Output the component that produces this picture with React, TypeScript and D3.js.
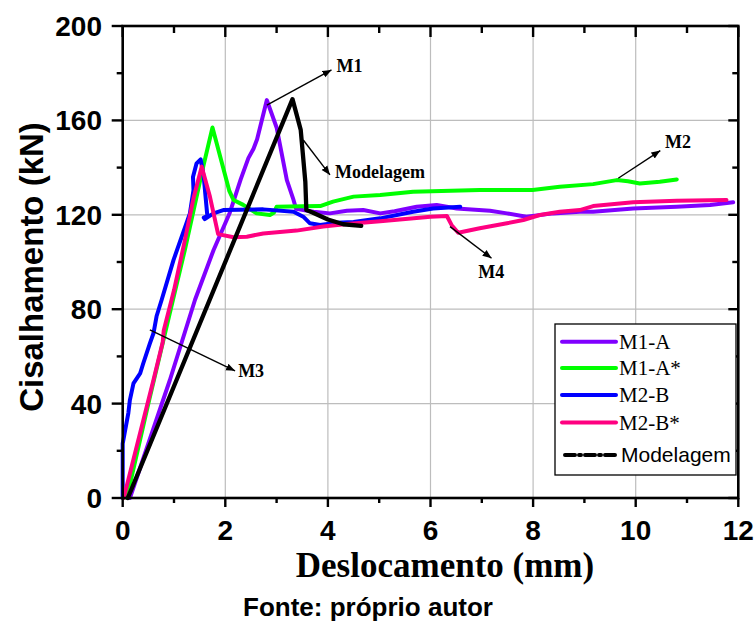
import React from "react";
import * as d3 from "d3";

type P = [number, number];

const M1A: P[] = [
  [0.14, 0], [0.92, 50], [1.41, 84], [1.77, 105], [2.09, 121], [2.3, 135], [2.45, 144],
  [2.55, 148], [2.62, 152], [2.81, 168.6], [3.0, 157], [3.2, 134.7], [3.33, 126.3],
  [3.38, 122.5], [3.72, 121.3], [4.04, 120.6], [4.37, 121.7], [4.69, 122], [5.02, 120.6],
  [5.3, 121.5], [5.73, 123.4], [6.12, 124.2], [6.51, 122.7], [7.16, 121.7], [7.49, 120.6],
  [7.87, 119.2], [8.39, 120.6], [8.91, 121.3], [9.17, 121.3], [9.95, 122.7], [10.8, 123.4],
  [11.45, 124.2], [11.9, 125.3],
];

const M1Astar: P[] = [
  [0.08, 0], [0.5, 40], [0.98, 84], [1.21, 105], [1.57, 140.4], [1.75, 157], [2.08, 130],
  [2.16, 126.3], [2.35, 124.2], [2.61, 120.6], [2.87, 119.9], [2.95, 121], [3.0, 123.4],
  [3.5, 123.6], [3.85, 123.7], [4.1, 125.6], [4.5, 127.7], [5.02, 128.4], [5.66, 129.8],
  [6.96, 130.5], [7.99, 130.5], [8.52, 131.9], [9.17, 133], [9.63, 134.7], [9.85, 134.2],
  [10.08, 133.3], [10.47, 134], [10.8, 135],
];

const M2B: P[] = [
  [0.0, 0], [0.0, 23], [0.05, 29], [0.11, 36], [0.14, 41.5], [0.21, 48.6], [0.34, 52.8],
  [0.4, 57], [0.53, 65.5], [0.6, 69.8], [0.66, 77], [0.76, 84], [0.99, 100.8],
  [1.31, 120.6], [1.38, 130.5], [1.37, 136], [1.44, 141.8], [1.52, 143.5], [1.58, 136],
  [1.65, 119.5], [1.58, 118.8], [1.6, 118.2], [1.77, 120.6], [1.96, 122], [2.74, 122.3],
  [3.33, 121.3], [3.52, 119.2], [3.65, 116.4], [3.85, 115.7], [4.17, 116.6], [4.5, 117],
  [5.02, 118.5], [5.66, 121.3], [6.05, 122.7], [6.58, 123.4],
];

const M2Bstar: P[] = [
  [0.02, 0], [0.6, 50], [0.78, 66], [0.8, 71], [1.0, 88], [1.2, 108], [1.38, 127],
  [1.54, 140.4], [1.7, 127.7], [1.86, 111.8], [2.16, 110.5], [2.42, 110.7], [2.74, 112.1],
  [3.39, 113.3], [3.91, 115], [4.37, 116.1], [5.02, 117.3], [6.0, 119.2], [6.32, 119.5],
  [6.41, 115.7], [6.54, 112.4], [6.96, 114.3], [7.49, 116.4], [7.81, 117.8], [8.13, 119.9],
  [8.52, 121.3], [8.91, 122], [9.17, 123.7], [9.95, 125.3], [10.8, 126], [11.77, 126.3],
];

const Modelagem: P[] = [
  [0.1, 0], [3.31, 169], [3.47, 156], [3.56, 134], [3.58, 122], [3.7, 121], [4.0, 118],
  [4.3, 116], [4.65, 115.3],
];

const seriesNames = ["M1-A", "M1-A*", "M2-B", "M2-B*", "Modelagem"];
const seriesData = [M1A, M1Astar, M2B, M2Bstar, Modelagem];
const seriesColors = ["#8000ff", "#00ff00", "#0000ff", "#ff0080", "#000000"];
const drawOrder = [0, 1, 2, 3, 4];

const xTicks = [0, 2, 4, 6, 8, 10, 12];
const xMinor = [1, 3, 5, 7, 9, 11];
const yTicks = [0, 40, 80, 120, 160, 200];
const yMinor = [20, 60, 100, 140, 180];

// annotations in data units
const annotations = [
  { label: "M1", from: [2.81, 166.5] as P, to: [4.07, 181.4] as P, text: [4.17, 180.5] as P },
  { label: "Modelagem", from: [3.52, 151.7] as P, to: [4.04, 136.9] as P, text: [4.14, 135.6] as P },
  { label: "M2", from: [9.66, 135.5] as P, to: [10.48, 147.2] as P, text: [10.57, 148.3] as P },
  { label: "M4", from: [6.38, 115] as P, to: [7.19, 101.6] as P, text: [6.93, 93.2] as P },
  { label: "M3", from: [0.53, 71.2] as P, to: [2.19, 53.9] as P, text: [2.25, 51.4] as P },
];

const W = 756;
const H = 623;
const L = 122.7, R = 738.3, T = 26, B = 498;

export default function App() {
  const x = d3.scaleLinear().domain([0, 12]).range([L, R]);
  const y = d3.scaleLinear().domain([0, 200]).range([B, T]);
  const line = d3.line<P>().x((d) => x(d[0])).y((d) => y(d[1]));

  const serifBold = "'Liberation Serif', 'Times New Roman', serif";
  const sans = "'Liberation Sans', Arial, sans-serif";

  const legendX = 555, legendY = 324, legendW = 181, legendH = 151;
  const legendRows = [17.7, 44, 71, 98.5, 131];

  return (
    <svg width={W} height={H} style={{ position: "absolute", left: 0, top: 0, background: "#fff" }}>
      <rect x={0} y={0} width={W} height={H} fill="#fff" />
      {/* grid */}
      {xTicks.filter((t) => t > 0 && t < 12).map((t) => (
        <line key={"gx" + t} x1={x(t)} x2={x(t)} y1={T} y2={B} stroke="#bdbdbd" strokeWidth={1.2} />
      ))}
      {yTicks.filter((t) => t > 0 && t < 200).map((t) => (
        <line key={"gy" + t} x1={L} x2={R} y1={y(t)} y2={y(t)} stroke="#bdbdbd" strokeWidth={1.2} />
      ))}

      {/* series */}
      {drawOrder.map((i) => (
        <path
          key={"s" + i}
          d={line(seriesData[i]) || ""}
          fill="none"
          stroke={seriesColors[i]}
          strokeWidth={i === 4 ? 4.3 : 4}
          strokeLinejoin="round"
          strokeLinecap="round"
        />
      ))}

      {/* annotations */}
      <defs>
        <marker id="ah" viewBox="0 0 10 10" refX="10" refY="5" markerWidth="9" markerHeight="9" markerUnits="userSpaceOnUse" orient="auto">
          <path d="M0,1 L10,5 L0,9 z" fill="#000" />
        </marker>
      </defs>
      {annotations.map((a) => (
        <g key={a.label}>
          <line
            x1={x(a.from[0])}
            y1={y(a.from[1])}
            x2={x(a.to[0])}
            y2={y(a.to[1])}
            stroke="#000"
            strokeWidth={1.4}
            markerEnd="url(#ah)"
          />
          <text x={x(a.text[0])} y={y(a.text[1])} fontFamily={serifBold} fontWeight="bold" fontSize={18} fill="#000">
            {a.label}
          </text>
        </g>
      ))}

      {/* frame */}
      <rect x={L} y={T} width={R - L} height={B - T} fill="none" stroke="#000" strokeWidth={2.6} />

      {/* ticks */}
      {xTicks.map((t) => (
        <g key={"xt" + t}>
          <line x1={x(t)} x2={x(t)} y1={B} y2={B + 9} stroke="#000" strokeWidth={2.4} />
          <line x1={x(t)} x2={x(t)} y1={T} y2={T + 11} stroke="#000" strokeWidth={2.4} />
          <text x={x(t)} y={540} textAnchor="middle" fontFamily={sans} fontWeight="bold" fontSize={28} fill="#000">
            {t}
          </text>
        </g>
      ))}
      {xMinor.map((t) => (
        <g key={"xm" + t}>
          <line x1={x(t)} x2={x(t)} y1={B} y2={B + 5} stroke="#000" strokeWidth={2.4} />
          <line x1={x(t)} x2={x(t)} y1={T} y2={T + 7} stroke="#000" strokeWidth={2.4} />
        </g>
      ))}
      {yTicks.map((t) => (
        <g key={"yt" + t}>
          <line x1={L - 11} x2={L} y1={y(t)} y2={y(t)} stroke="#000" strokeWidth={2.4} />
          <line x1={R - 10} x2={R} y1={y(t)} y2={y(t)} stroke="#000" strokeWidth={2.4} />
          <text x={102} y={y(t)} dy="0.36em" textAnchor="end" fontFamily={sans} fontWeight="bold" fontSize={28} fill="#000">
            {t}
          </text>
        </g>
      ))}
      {yMinor.map((t) => (
        <g key={"ym" + t}>
          <line x1={L - 6} x2={L} y1={y(t)} y2={y(t)} stroke="#000" strokeWidth={2.4} />
          <line x1={R - 6} x2={R} y1={y(t)} y2={y(t)} stroke="#000" strokeWidth={2.4} />
        </g>
      ))}

      {/* axis titles */}
      <text
        transform={`translate(43, 267) rotate(-90)`}
        textAnchor="middle"
        fontFamily={sans}
        fontWeight="bold"
        fontSize={33}
        fill="#000"
      >
        Cisalhamento (kN)
      </text>
      <text x={445} y={577} textAnchor="middle" fontFamily={serifBold} fontWeight="bold" fontSize={35} fill="#000">
        Deslocamento (mm)
      </text>
      <text x={368} y={616} textAnchor="middle" fontFamily={sans} fontWeight="bold" fontSize={26} fill="#000">
        Fonte: próprio autor
      </text>

      {/* legend */}
      <rect x={legendX} y={legendY} width={legendW} height={legendH} fill="#fff" stroke="#000" strokeWidth={1.3} />
      {seriesNames.map((name, i) => {
        const ry = legendY + legendRows[i];
        const isModel = i === 4;
        return (
          <g key={"lg" + i}>
            <line
              x1={isModel ? 565 : 562}
              x2={616}
              y1={ry}
              y2={ry}
              stroke={seriesColors[i]}
              strokeWidth={4}
              strokeLinecap="round"
              strokeDasharray={isModel ? "10,4,2,4" : undefined}
            />
            <text
              x={isModel ? 621 : 619}
              y={ry}
              dy="0.35em"
              fontFamily={isModel ? sans : "'Liberation Serif', 'Times New Roman', serif"}
              fontSize={21}
              fill="#000"
            >
              {name}
            </text>
          </g>
        );
      })}
    </svg>
  );
}
